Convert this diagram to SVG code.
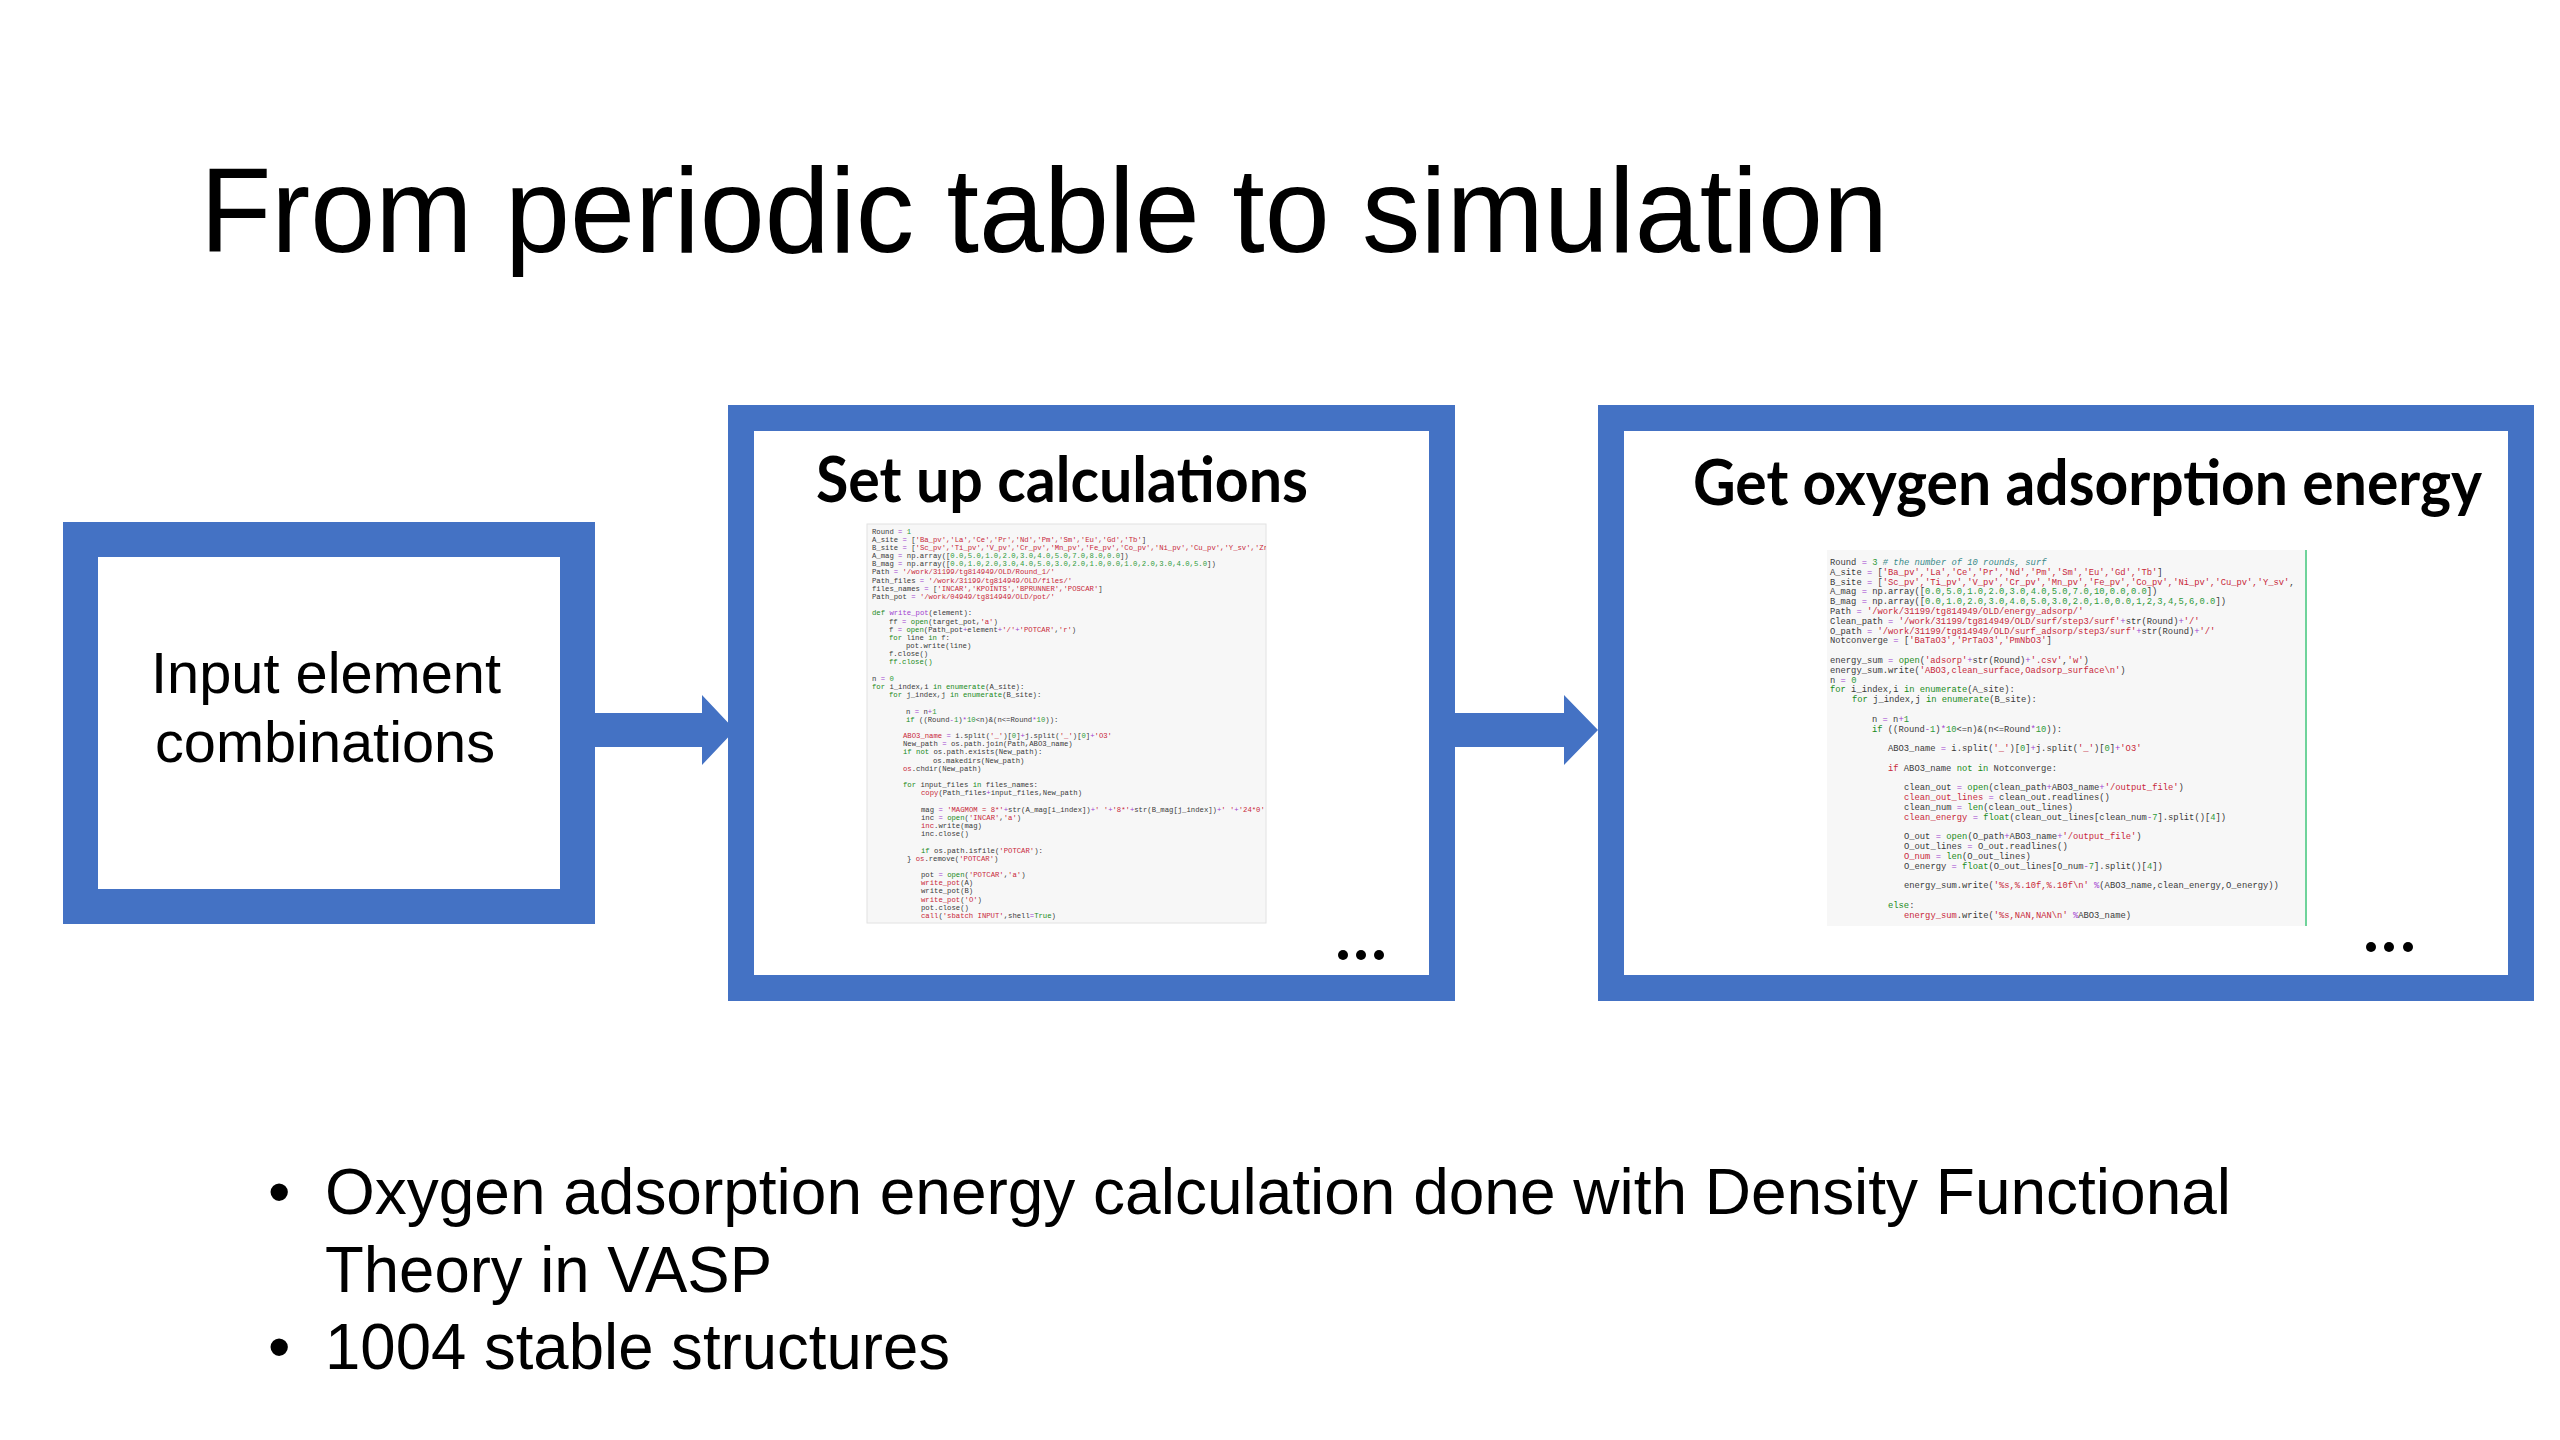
<svg xmlns="http://www.w3.org/2000/svg" width="2560" height="1440" viewBox="0 0 2560 1440">
<style>
.frame{fill:#ffffff;stroke:#4472c4}
.arrow{fill:#4472c4;stroke:none}
.sans{font-family:"Liberation Sans",Arial,sans-serif;fill:#000}
.head{font-family:Lato,"Open Sans",sans-serif;font-weight:700;fill:#000}
.code{font-family:"Liberation Mono","DejaVu Sans Mono",monospace;fill:#3a3a3a}
.c2{font-size:7.25px}
.c3{font-size:8.8px}
.s{fill:#c8283a}
.k{fill:#1a8a1a}
.n{fill:#2e9a3a}
.o{fill:#a040d0}
.cm{fill:#3a8a8a;font-style:italic}
.codebg{fill:#f7f7f7}
.dot{fill:#000}
</style>
<defs>
<clipPath id="clip2"><rect x="867" y="524" width="399" height="399"/></clipPath>
<clipPath id="clip3"><rect x="1827" y="550" width="478" height="376"/></clipPath>
</defs>
<rect x="0" y="0" width="2560" height="1440" fill="#ffffff"/>

<text id="title" class="sans" x="200" y="252" font-size="120" textLength="1688" lengthAdjust="spacingAndGlyphs">From periodic table to simulation</text>

<g id="connectors">
<polygon class="arrow" points="595,713 702,713 702,695 735,730 702,765 702,747 595,747"/>
<polygon class="arrow" points="1455,713 1564,713 1564,695 1598,730 1564,765 1564,747 1455,747"/>
</g>

<g id="node-input">
<rect class="frame" x="80.5" y="539.5" width="497" height="367" stroke-width="35"/>
<text class="sans" x="326" y="693" font-size="58" text-anchor="middle" textLength="350" lengthAdjust="spacingAndGlyphs">Input element</text>
<text class="sans" x="325" y="762" font-size="58" text-anchor="middle" textLength="340" lengthAdjust="spacingAndGlyphs">combinations</text>
</g>

<g id="node-setup">
<rect class="frame" x="741" y="418" width="701" height="570" stroke-width="26"/>
<text class="head" x="816" y="502" font-size="63" textLength="492" lengthAdjust="spacingAndGlyphs">Set up calculations</text>
<rect class="codebg" x="867" y="524" width="399" height="399" stroke="#e2e2e2" stroke-width="1"/>
<g clip-path="url(#clip2)" class="code c2">
<text x="872" y="533.5">Round <tspan class="o">=</tspan> <tspan class="n">1</tspan></text>
<text x="872" y="541.7">A_site <tspan class="o">=</tspan> [<tspan class="s">'Ba_pv','La','Ce','Pr','Nd','Pm','Sm','Eu','Gd','Tb'</tspan>]</text>
<text x="872" y="549.9">B_site <tspan class="o">=</tspan> [<tspan class="s">'Sc_pv','Ti_pv','V_pv','Cr_pv','Mn_pv','Fe_pv','Co_pv','Ni_pv','Cu_pv','Y_sv','Zr_sv'</tspan>,</text>
<text x="872" y="558.0">A_mag <tspan class="o">=</tspan> np.array([<tspan class="n">0.0,5.0,1.0,2.0,3.0,4.0,5.0,7.0,8.0,0.0</tspan>])</text>
<text x="872" y="566.2">B_mag <tspan class="o">=</tspan> np.array([<tspan class="n">0.0,1.0,2.0,3.0,4.0,5.0,3.0,2.0,1.0,0.0,1.0,2.0,3.0,4.0,5.0</tspan>])</text>
<text x="872" y="574.4">Path <tspan class="o">=</tspan> <tspan class="s">'/work/31199/tg814949/OLD/Round_1/'</tspan></text>
<text x="872" y="582.6">Path_files <tspan class="o">=</tspan> <tspan class="s">'/work/31199/tg814949/OLD/files/'</tspan></text>
<text x="872" y="590.8">files_names <tspan class="o">=</tspan> [<tspan class="s">'INCAR','KPOINTS','BPRUNNER','POSCAR'</tspan>]</text>
<text x="872" y="598.9">Path_pot <tspan class="o">=</tspan> <tspan class="s">'/work/04949/tg814949/OLD/pot/'</tspan></text>
<text x="872" y="615.3"><tspan class="k">def</tspan> <tspan class="o">write_pot</tspan>(element):</text>
<text x="889" y="623.5">ff <tspan class="o">=</tspan> <tspan class="k">open</tspan>(target_pot,<tspan class="s">'a'</tspan>)</text>
<text x="889" y="631.7">f <tspan class="o">=</tspan> <tspan class="k">open</tspan>(Path_pot<tspan class="o">+</tspan>element<tspan class="o">+</tspan><tspan class="s">'/'</tspan><tspan class="o">+</tspan><tspan class="s">'POTCAR'</tspan>,<tspan class="s">'r'</tspan>)</text>
<text x="889" y="639.8"><tspan class="k">for</tspan> line <tspan class="k">in</tspan> f:</text>
<text x="906" y="648.0">pot.write(line)</text>
<text x="889" y="656.2">f.close()</text>
<text x="889" y="664.4"><tspan class="k">ff.close()</tspan></text>
<text x="872" y="680.7">n <tspan class="o">=</tspan> <tspan class="n">0</tspan></text>
<text x="872" y="688.9"><tspan class="k">for</tspan> i_index,i <tspan class="k">in</tspan> <tspan class="k">enumerate</tspan>(A_site):</text>
<text x="889" y="697.1"><tspan class="k">for</tspan> j_index,j <tspan class="k">in</tspan> <tspan class="k">enumerate</tspan>(B_site):</text>
<text x="906" y="713.5">n <tspan class="o">=</tspan> n<tspan class="o">+</tspan><tspan class="n">1</tspan></text>
<text x="906" y="721.6"><tspan class="k">if</tspan> ((Round<tspan class="o">-</tspan><tspan class="n">1</tspan>)<tspan class="o">*</tspan><tspan class="n">10</tspan>&lt;n)&amp;(n&lt;=Round<tspan class="o">*</tspan><tspan class="n">10</tspan>)):</text>
<text x="903" y="738.0"><tspan class="s">ABO3_name</tspan> <tspan class="o">=</tspan> i.split(<tspan class="s">'_'</tspan>)[<tspan class="n">0</tspan>]<tspan class="o">+</tspan>j.split(<tspan class="s">'_'</tspan>)[<tspan class="n">0</tspan>]<tspan class="o">+</tspan><tspan class="s">'O3'</tspan></text>
<text x="903" y="746.2">New_path <tspan class="o">=</tspan> os.path.join(Path,ABO3_name)</text>
<text x="903" y="754.4"><tspan class="k">if</tspan> <tspan class="k">not</tspan> os.path.exists(New_path):</text>
<text x="933" y="762.5">os.makedirs(New_path)</text>
<text x="903" y="770.7"><tspan class="s">os</tspan>.chdir(New_path)</text>
<text x="903" y="787.1"><tspan class="k">for</tspan> input_files <tspan class="k">in</tspan> files_names:</text>
<text x="921" y="795.3"><tspan class="s">copy</tspan>(Path_files<tspan class="o">+</tspan>input_files,New_path)</text>
<text x="921" y="811.6">mag <tspan class="o">=</tspan> <tspan class="s">'MAGMOM = 8*'</tspan><tspan class="o">+</tspan>str(A_mag[i_index])<tspan class="o">+</tspan><tspan class="s">' '</tspan><tspan class="o">+</tspan><tspan class="s">'8*'</tspan><tspan class="o">+</tspan>str(B_mag[j_index])<tspan class="o">+</tspan><tspan class="s">' '</tspan><tspan class="o">+</tspan><tspan class="s">'24*0'</tspan></text>
<text x="921" y="819.8">inc <tspan class="o">=</tspan> <tspan class="k">open</tspan>(<tspan class="s">'INCAR'</tspan>,<tspan class="s">'a'</tspan>)</text>
<text x="921" y="828.0"><tspan class="s">inc</tspan>.write(mag)</text>
<text x="921" y="836.2">inc.close()</text>
<text x="921" y="852.5"><tspan class="k">if</tspan> os.path.isfile(<tspan class="s">'POTCAR'</tspan>):</text>
<text x="907" y="860.7">} <tspan class="s">os</tspan>.remove(<tspan class="s">'POTCAR'</tspan>)</text>
<text x="921" y="877.1">pot <tspan class="o">=</tspan> <tspan class="k">open</tspan>(<tspan class="s">'POTCAR'</tspan>,<tspan class="s">'a'</tspan>)</text>
<text x="921" y="885.3"><tspan class="s">write_pot</tspan>(A)</text>
<text x="921" y="893.4">write_pot(B)</text>
<text x="921" y="901.6"><tspan class="s">write_pot</tspan>(<tspan class="s">'O'</tspan>)</text>
<text x="921" y="909.8">pot.close()</text>
<text x="921" y="918.0"><tspan class="s">call</tspan>(<tspan class="s">'sbatch INPUT'</tspan>,shell<tspan class="o">=</tspan><tspan class="k">True</tspan>)</text>
</g>
<circle class="dot" cx="1343" cy="955" r="5"/>
<circle class="dot" cx="1361" cy="955" r="5"/>
<circle class="dot" cx="1379" cy="955" r="5"/>
</g>

<g id="node-energy">
<rect class="frame" x="1611" y="418" width="910" height="570" stroke-width="26"/>
<text class="head" x="1693" y="505" font-size="63" textLength="789" lengthAdjust="spacingAndGlyphs">Get oxygen adsorption energy</text>
<rect class="codebg" x="1827" y="550" width="480" height="376"/>
<line x1="2306" y1="550" x2="2306" y2="926" stroke="#6fd39a" stroke-width="2"/>
<g clip-path="url(#clip3)" class="code c3">
<text x="1830" y="565.0">Round <tspan class="o">=</tspan> <tspan class="n">3</tspan> <tspan class="cm"># the number of 10 rounds, surf</tspan></text>
<text x="1830" y="574.8">A_site <tspan class="o">=</tspan> [<tspan class="s">'Ba_pv','La','Ce','Pr','Nd','Pm','Sm','Eu','Gd','Tb'</tspan>]</text>
<text x="1830" y="584.6">B_site <tspan class="o">=</tspan> [<tspan class="s">'Sc_pv','Ti_pv','V_pv','Cr_pv','Mn_pv','Fe_pv','Co_pv','Ni_pv','Cu_pv','Y_sv'</tspan>,</text>
<text x="1830" y="594.4">A_mag <tspan class="o">=</tspan> np.array([<tspan class="n">0.0,5.0,1.0,2.0,3.0,4.0,5.0,7.0,10,0.0,0.0</tspan>])</text>
<text x="1830" y="604.2">B_mag <tspan class="o">=</tspan> np.array([<tspan class="n">0.0,1.0,2.0,3.0,4.0,5.0,3.0,2.0,1.0,0.0,1,2,3,4,5,6,0.0</tspan>])</text>
<text x="1830" y="614.0">Path <tspan class="o">=</tspan> <tspan class="s">'/work/31199/tg814949/OLD/energy_adsorp/'</tspan></text>
<text x="1830" y="623.8">Clean_path <tspan class="o">=</tspan> <tspan class="s">'/work/31199/tg814949/OLD/surf/step3/surf'</tspan><tspan class="o">+</tspan>str(Round)<tspan class="o">+</tspan><tspan class="s">'/'</tspan></text>
<text x="1830" y="633.6">O_path <tspan class="o">=</tspan> <tspan class="s">'/work/31199/tg814949/OLD/surf_adsorp/step3/surf'</tspan><tspan class="o">+</tspan>str(Round)<tspan class="o">+</tspan><tspan class="s">'/'</tspan></text>
<text x="1830" y="643.4">Notconverge <tspan class="o">=</tspan> [<tspan class="s">'BaTaO3','PrTaO3','PmNbO3'</tspan>]</text>
<text x="1830" y="663.0">energy_sum <tspan class="o">=</tspan> <tspan class="k">open</tspan>(<tspan class="s">'adsorp'</tspan><tspan class="o">+</tspan>str(Round)<tspan class="o">+</tspan><tspan class="s">'.csv'</tspan>,<tspan class="s">'w'</tspan>)</text>
<text x="1830" y="672.8">energy_sum.write(<tspan class="s">'ABO3,clean_surface,Oadsorp_surface\n'</tspan>)</text>
<text x="1830" y="682.6">n <tspan class="o">=</tspan> <tspan class="n">0</tspan></text>
<text x="1830" y="692.4"><tspan class="k">for</tspan> i_index,i <tspan class="k">in</tspan> <tspan class="k">enumerate</tspan>(A_site):</text>
<text x="1852" y="702.2"><tspan class="k">for</tspan> j_index,j <tspan class="k">in</tspan> <tspan class="k">enumerate</tspan>(B_site):</text>
<text x="1872" y="721.8">n <tspan class="o">=</tspan> n<tspan class="o">+</tspan><tspan class="n">1</tspan></text>
<text x="1872" y="731.6"><tspan class="k">if</tspan> ((Round<tspan class="o">-</tspan><tspan class="n">1</tspan>)<tspan class="o">*</tspan><tspan class="n">10</tspan>&lt;=n)&amp;(n&lt;=Round<tspan class="o">*</tspan><tspan class="n">10</tspan>)):</text>
<text x="1888" y="751.2">ABO3_name <tspan class="o">=</tspan> i.split(<tspan class="s">'_'</tspan>)[<tspan class="n">0</tspan>]<tspan class="o">+</tspan>j.split(<tspan class="s">'_'</tspan>)[<tspan class="n">0</tspan>]<tspan class="o">+</tspan><tspan class="s">'O3'</tspan></text>
<text x="1888" y="770.8"><tspan class="s">if</tspan> ABO3_name <tspan class="k">not</tspan> <tspan class="k">in</tspan> Notconverge:</text>
<text x="1904" y="790.4">clean_out <tspan class="o">=</tspan> <tspan class="k">open</tspan>(clean_path<tspan class="o">+</tspan>ABO3_name<tspan class="o">+</tspan><tspan class="s">'/output_file'</tspan>)</text>
<text x="1904" y="800.2"><tspan class="s">clean_out_lines</tspan> <tspan class="o">=</tspan> clean_out.readlines()</text>
<text x="1904" y="810.0">clean_num <tspan class="o">=</tspan> <tspan class="k">len</tspan>(clean_out_lines)</text>
<text x="1904" y="819.8"><tspan class="s">clean_energy</tspan> <tspan class="o">=</tspan> <tspan class="k">float</tspan>(clean_out_lines[clean_num<tspan class="o">-</tspan><tspan class="n">7</tspan>].split()[<tspan class="n">4</tspan>])</text>
<text x="1904" y="839.4">O_out <tspan class="o">=</tspan> <tspan class="k">open</tspan>(O_path<tspan class="o">+</tspan>ABO3_name<tspan class="o">+</tspan><tspan class="s">'/output_file'</tspan>)</text>
<text x="1904" y="849.2">O_out_lines <tspan class="o">=</tspan> O_out.readlines()</text>
<text x="1904" y="859.0"><tspan class="s">O_num</tspan> <tspan class="o">=</tspan> <tspan class="k">len</tspan>(O_out_lines)</text>
<text x="1904" y="868.8">O_energy <tspan class="o">=</tspan> <tspan class="k">float</tspan>(O_out_lines[O_num<tspan class="o">-</tspan><tspan class="n">7</tspan>].split()[<tspan class="n">4</tspan>])</text>
<text x="1904" y="888.4">energy_sum.write(<tspan class="s">'%s,%.10f,%.10f\n'</tspan> <tspan class="o">%</tspan>(ABO3_name,clean_energy,O_energy))</text>
<text x="1888" y="908.0"><tspan class="k">else</tspan>:</text>
<text x="1904" y="917.8"><tspan class="s">energy_sum</tspan>.write(<tspan class="s">'%s,NAN,NAN\n'</tspan> <tspan class="o">%</tspan>ABO3_name)</text>
</g>
<circle class="dot" cx="2371" cy="947" r="5"/>
<circle class="dot" cx="2389" cy="947" r="5"/>
<circle class="dot" cx="2408" cy="947" r="5"/>
</g>

<g id="bullets" class="sans" font-size="64">
<text x="268" y="1214">•</text>
<text x="325" y="1214" textLength="1906" lengthAdjust="spacingAndGlyphs">Oxygen adsorption energy calculation done with Density Functional</text>
<text x="325" y="1292" textLength="447" lengthAdjust="spacingAndGlyphs">Theory in VASP</text>
<text x="268" y="1369">•</text>
<text x="325" y="1369" textLength="625" lengthAdjust="spacingAndGlyphs">1004 stable structures</text>
</g>
</svg>
